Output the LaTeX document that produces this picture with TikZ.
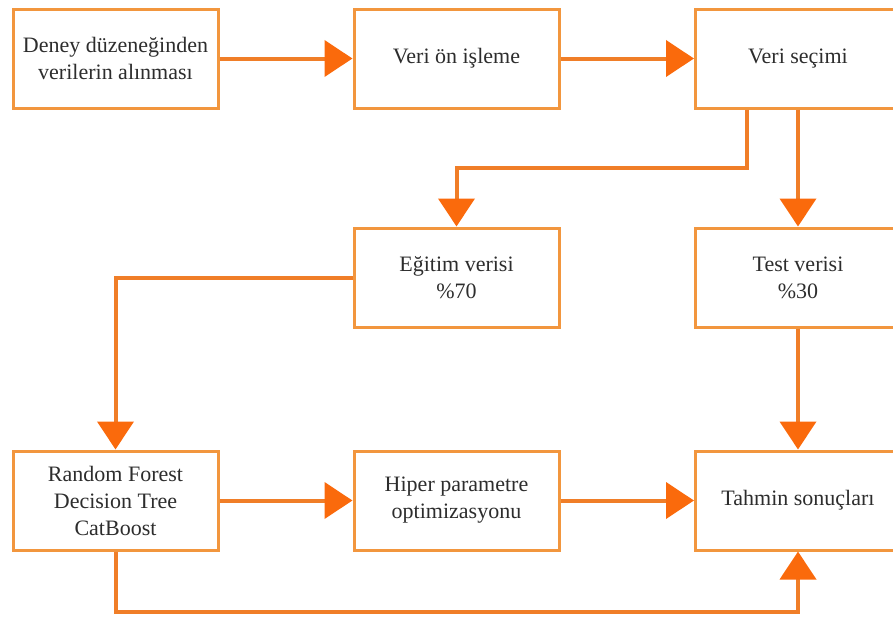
\documentclass[tikz,border=0pt]{standalone}
\usepackage{fontspec}
\setmainfont{Liberation Serif}
\usetikzlibrary{arrows.meta,shadows}
\definecolor{boxline}{RGB}{242,150,62}
\definecolor{flowline}{RGB}{240,126,40}
\definecolor{tipcol}{RGB}{250,106,12}
\definecolor{textgray}{RGB}{45,45,45}
\tikzset{stage/.style = {draw=boxline, line width=3pt, fill=white, minimum width=205pt,
    minimum height=99pt, inner sep=0pt, align=center, text=textgray,
    font=\fontsize{22}{27}\selectfont,
    drop shadow={opacity=.12, shadow xshift=2pt, shadow yshift=-2pt}},
  flow/.style = {draw=flowline, line width=4pt,
    -{Triangle[length=28pt, width=36pt, color=tipcol]}}}

\begin{document}
\begin{tikzpicture}[x=1pt, y=-1pt]
      \useasboundingbox (0,0) rectangle (893,619);
      % upper row
      \node[stage] (deney) at (115.5,58.5) {Deney düzeneğinden\\verilerin alınması};
      \node[stage] (onisleme) at (456.5,58.5) {Veri ön işleme};
      \node[stage] (secim) at (798,58.5) {Veri seçimi};
      % split
      \node[stage] (egitim) at (456.5,277.5) {Eğitim verisi\\\%70};
      \node[stage] (test) at (798,277.5) {Test verisi\\\%30};
      % lower row
      \node[stage] (model) at (115.5,500.5) {Random Forest\\Decision Tree\\CatBoost};
      \node[stage] (hiper) at (456.5,500.5) {Hiper parametre\\optimizasyonu};
      \node[stage] (tahmin) at (798,500.5) {Tahmin sonuçları};
      \coordinate (split) at (747,168);
      \coordinate (bottom) at (116,612);
      \draw[flow] (deney) -- (onisleme);
      \draw[flow] (onisleme) -- (secim);
      \draw[flow] (secim.south -| split) -- (split) -| (egitim.north);
      \draw[flow] (secim) -- (test);
      \draw[flow] (egitim.west) -| (model.north);
      \draw[flow] (test) -- (tahmin);
      \draw[flow] (model) -- (hiper);
      \draw[flow] (hiper) -- (tahmin);
      \draw[flow] (model.south -| bottom) -- (bottom) -| (tahmin.south);
    \end{tikzpicture}
\end{document}
